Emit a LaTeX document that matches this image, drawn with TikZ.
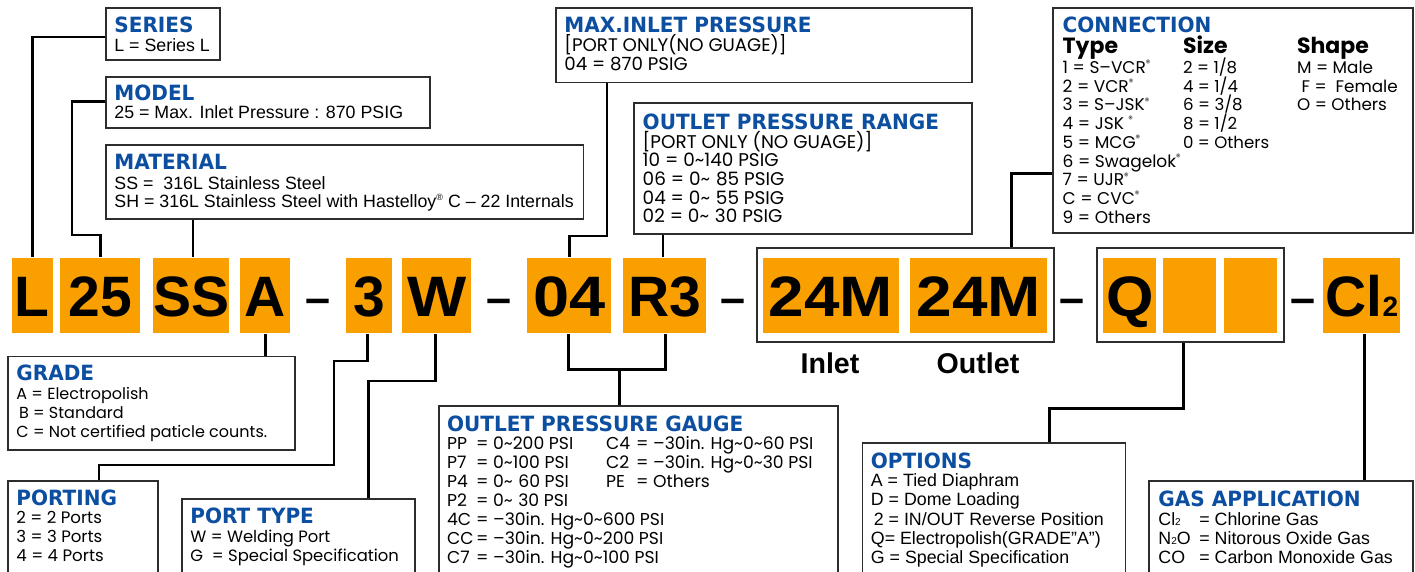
\documentclass[tikz,border=0pt]{standalone}
\usepackage{fontspec}
\setmainfont{Liberation Sans}
\newfontfamily\ttlfont{DejaVu Sans}[FakeStretch=0.955]
\newfontfamily\geofont{Poppins}
\definecolor{codeorange}{RGB}{249,160,0}
\definecolor{ttlblue}{RGB}{12,78,160}
\definecolor{boxgray}{RGB}{45,45,45}
\newcommand\tl{\textasciitilde}
\newcommand\reg{\raisebox{3.3pt}{\fontsize{4.5}{4.5}\selectfont ®}}
\newcommand\sm[1]{{\fontsize{5}{5}\selectfont #1}}
\newcommand\mlines[2]{\vtop{\baselineskip=#1\lineskiplimit=-100pt\lineskip=0pt\halign{##\hfil\cr#2\crcr}}}
\newcommand\wide[2]{\scalebox{#1}[1]{#2}}
\tikzset{
 infobox/.style={draw=boxgray, line width=0.9pt, fill=white, inner sep=0pt, anchor=north west},
 ttl/.style={anchor=base west, inner sep=0pt, text=ttlblue, font=\ttlfont\bfseries\fontsize{10.5}{12}\selectfont},
 cbody/.style={anchor=base west, inner sep=0pt, font=\fontsize{8.9}{10}\selectfont},
 gb/.style={anchor=base west, inner sep=0pt, font=\geofont\fontsize{#1}{10}\selectfont},
 ghead/.style={anchor=base west, inner sep=0pt, font=\geofont\bfseries\fontsize{11}{12}\selectfont},
 codebox/.style={fill=codeorange, inner sep=0pt, anchor=north west, minimum height=37.75pt,
   text height=20.5pt, text depth=0pt, font=\bfseries\fontsize{28.5}{30}\selectfont},
 grpbox/.style={draw=boxgray, line width=1pt, inner sep=0pt, anchor=north west},
 conn/.style={draw=black, line width=1.3pt},
 sepdash/.style={anchor=base, inner sep=0pt, font=\bfseries\fontsize{22.5}{24}\selectfont},
 io/.style={anchor=base, inner sep=0pt, font=\bfseries\fontsize{14.3}{16}\selectfont},
}
\begin{document}
\begin{tikzpicture}[x=0.5pt,y=-0.5pt]
\useasboundingbox (0,0) rectangle (1415,572);
\fill[white] (0,0) rectangle (1415,572);
\clip (0,0) rectangle (1415,572);

% ---- group frames
\node[grpbox, minimum width=148.45pt, minimum height=46.85pt] (inout) at (755.6,247.3) {};
\node[grpbox, minimum width=93.6pt, minimum height=46.85pt] (qgrp) at (1095.8,247.3) {};

% ---- code boxes
\node[codebox, minimum width=20.5pt]  (cL)  at (11.5,257.5) {L};
\node[codebox, minimum width=40pt]    (c25) at (60,257.5) {25};
\node[codebox, minimum width=37.8pt]  (cSS) at (153,257.5) {SS};
\node[codebox, minimum width=25pt]    (cA)  at (240,257.5) {A};
\node[codebox, minimum width=22.8pt]  (c3)  at (346,257.5) {3};
\node[codebox, minimum width=34.65pt] (cW)  at (401.7,257.5) {\wide{1.1}{W}};
\node[codebox, minimum width=41.8pt]  (c04) at (527,257.5) {\wide{1.14}{04}};
\node[codebox, minimum width=41.5pt]  (cR3) at (623,257.5) {R3};
\node[codebox, minimum width=67.95pt] (cIn) at (762.5,257.5) {\wide{1.12}{24M}};
\node[codebox, minimum width=68.3pt]  (cOut) at (910,257.5) {\wide{1.12}{24M}};
\node[codebox, minimum width=26.5pt]  (cQ)  at (1103,257.5) {\wide{1.07}{Q}};
\node[codebox, minimum width=26.35pt] (cB1) at (1163,257.5) {};
\node[codebox, minimum width=26.4pt]  (cB2) at (1224,257.5) {};
\node[codebox, minimum width=38.5pt]  (cCl) at (1323,257.5) {Cl{\fontsize{14}{14}\selectfont 2}};

% ---- dashes
\node[sepdash] (d1) at (317.8,313.2) {–};
\node[sepdash] (d2) at (499.3,313.2) {–};
\node[sepdash] (d3) at (733,313.2) {–};
\node[sepdash] (d4) at (1072.2,313.2) {–};
\node[sepdash] (d5) at (1303,313.2) {–};

\node[io] (inl) at (830,373.3) {Inlet};
\node[io] (outl) at (978,373.3) {Outlet};

% ---- SERIES
\node[infobox, minimum width=57pt, minimum height=26pt] (series) at (105,7) {};
\node[ttl] (seriesT) at (114,32.7) {SERIES};
\node[cbody] (seriesB) at (114,51.7) {L = Series L};

% ---- MODEL
\node[infobox, minimum width=162pt, minimum height=25.5pt] (model) at (105,76) {};
\node[ttl] (modelT) at (114,100.7) {MODEL};
\node[cbody] (modelB) at (114,119) {25 = Max. Inlet Pressure : 870 PSIG};

% ---- MATERIAL
\node[infobox, minimum width=238.75pt, minimum height=37pt] (material) at (105,144) {};
\node[ttl] (materialT) at (114,169.3) {MATERIAL};
\node[cbody] (materialB) at (114,189.3) {\mlines{9pt}{SS = \ 316L Stainless Steel\cr
SH = 316L Stainless Steel with Hastelloy\reg\ C – 22 Internals}};

% ---- MAX INLET
\node[infobox, minimum width=208pt, minimum height=37.2pt] (maxin) at (555,7.3) {};
\node[ttl] (maxinT) at (564,32.7) {MAX.INLET PRESSURE};
\node[gb=9.1] (maxinB) at (564,51.7) {\mlines{9.5pt}{[PORT ONLY(NO GUAGE)]\cr 04 = 870 PSIG}};

% ---- OUTLET PRESSURE RANGE
\node[infobox, minimum width=169pt, minimum height=65.5pt] (outrange) at (633,102) {};
\node[ttl] (outrangeT) at (642.3,129.3) {OUTLET PRESSURE RANGE};
\node[gb=9.2] (outrangeB) at (642.3,148.3) {\mlines{9.3pt}{[PORT ONLY (NO GUAGE)]\cr
10 = 0\tl140 PSIG\cr 06 = 0\tl\phantom{1}85 PSIG\cr 04 = 0\tl\phantom{1}55 PSIG\cr 02 = 0\tl\phantom{1}30 PSIG}};

% ---- CONNECTION
\node[infobox, minimum width=179.7pt, minimum height=112.5pt] (connection) at (1052.3,7.3) {};
\node[ttl] (connectionT) at (1062.3,32.3) {CONNECTION};
\node[ghead] (typeH) at (1062.3,54) {Type};
\node[ghead] (sizeH) at (1182.7,54) {Size};
\node[ghead] (shapeH) at (1296.7,54) {Shape};
\node[gb=8.5] (typeB) at (1062.3,73.3) {\mlines{9.375pt}{1 = S–VCR\reg\cr 2 = VCR\reg\cr 3 = S–JSK\reg\cr 4 = JSK \reg\cr
5 = MCG\reg\cr 6 = Swagelok\reg\cr 7 = UJR\reg\cr C = CVC\reg\cr 9 = Others}};
\node[gb=8.3] (sizeB) at (1182.7,73.3) {\mlines{9.375pt}{2 = 1/8\cr 4 = 1/4\cr 6 = 3/8\cr 8 = 1/2\cr 0 = Others}};
\node[gb=8.4] (shapeB) at (1296.7,73.3) {\mlines{9.375pt}{M = Male\cr \ F = \ Female\cr O = Others}};

% ---- GRADE
\node[infobox, minimum width=143.65pt, minimum height=46.65pt] (grade) at (7,355.7) {};
\node[ttl] (gradeT) at (16,380.5) {GRADE};
\node[gb=8] (gradeB) at (16,400) {\mlines{9.35pt}{A = Electropolish\cr \,B = Standard\cr C = Not certified paticle counts.}};

% ---- PORTING
\node[infobox, minimum width=75pt, minimum height=55pt] (porting) at (7.3,480) {};
\node[ttl] (portingT) at (16,505) {PORTING};
\node[gb=8.3] (portingB) at (16,523.3) {\mlines{9.6pt}{2 = 2 Ports\cr 3 = 3 Ports\cr 4 = 4 Ports}};

% ---- PORT TYPE
\node[infobox, minimum width=116.65pt, minimum height=45.85pt] (porttype) at (181,498.3) {};
\node[ttl] (porttypeT) at (190,523.3) {PORT TYPE};
\node[gb=8.2] (porttypeB) at (190,542.3) {\mlines{9.7pt}{W = Welding Port\cr G \ = Special Specification}};

% ---- OUTLET PRESSURE GAUGE
\node[infobox, minimum width=199.5pt, minimum height=92.5pt] (gauge) at (438.3,405) {};
\node[ttl] (gaugeT) at (446.7,431.7) {OUTLET PRESSURE GAUGE};
\node[gb=8.6] (gaugeB) at (446.7,450) {\mlines{9.45pt}{%
\makebox[14.5pt][l]{PP}= 0\tl200 PSI\cr
\makebox[14.5pt][l]{P7}= 0\tl100 PSI\cr
\makebox[14.5pt][l]{P4}= 0\tl\phantom{1}60 PSI\cr
\makebox[14.5pt][l]{P2}= 0\tl\phantom{1}30 PSI\cr
\makebox[14.5pt][l]{4C}= –30in. Hg\tl0\tl600 PSI\cr
\makebox[14.5pt][l]{CC}= –30in. Hg\tl0\tl200 PSI\cr
\makebox[14.5pt][l]{C7}= –30in. Hg\tl0\tl100 PSI}};
\node[gb=8.6] (gaugeC) at (605.7,450) {\mlines{9.45pt}{%
\makebox[15pt][l]{C4}= –30in. Hg\tl0\tl60 PSI\cr
\makebox[15pt][l]{C2}= –30in. Hg\tl0\tl30 PSI\cr
\makebox[15pt][l]{PE}= Others}};

% ---- OPTIONS
\node[infobox, minimum width=131.55pt, minimum height=73.85pt] (options) at (861.5,442.3) {};
\node[ttl] (optionsT) at (870.5,468.3) {OPTIONS};
\node[cbody] (optionsB) at (870.5,486.7) {\mlines{9.6pt}{A = Tied Diaphram\cr D = Dome Loading\cr
\,2 = IN/OUT Reverse Position\cr Q= Electropolish(GRADE"A")\cr G = Special Specification}};

% ---- GAS APPLICATION
\node[infobox, minimum width=131.8pt, minimum height=55pt] (gas) at (1148.4,480) {};
\node[ttl] (gasT) at (1158,506.7) {GAS APPLICATION};
\node[cbody] (gasB) at (1158,525) {\mlines{9.6pt}{%
\makebox[20.5pt][l]{Cl\sm{2}}= Chlorine Gas\cr
\makebox[20.5pt][l]{N\sm{2}O}= Nitorous Oxide Gas\cr
\makebox[20.5pt][l]{CO}= Carbon Monoxide Gas}};

% ---- connectors
\coordinate (gjoin) at (619.4,369.3);
\draw[conn] (series.west |- 0,37) -| (cL.north);
\draw[conn] (model.west |- 0,101.7) -| (72,235) -| (c25.north);
\draw[conn] (material.south -| 193,0) -- (cSS.north -| 193,0);
\draw[conn] (maxin.south -| 607,0) |- (c04.north |- 0,236) -- (c04.north);
\draw[conn] (outrange.south -| 663,0) -- (cR3.north -| 663,0);
\draw[conn] (connection.west |- 0,173.3) -| (inout.north -| 1011.7,0);
\draw[conn] (cA.south) -- (grade.north -| cA.south);
\draw[conn] (c3.south -| 367.3,0) |- (334,361) |- (99,465) -- (porting.north -| 99,0);
\draw[conn] (cW.south -| 435.5,0) |- (368.5,381) -- (porttype.north -| 368.5,0);
\draw[conn] (c04.south -| 568.4,0) |- (665.7,369.3) -- (cR3.south -| 665.7,0);
\draw[conn] (gauge.north -| gjoin) -- (gjoin);
\draw[conn] (qgrp.south -| 1183.3,0) |- (1049.3,408.3) -- (options.north -| 1049.3,0);
\draw[conn] (cCl.south -| 1364.6,0) -- (gas.north -| 1364.6,0);
\end{tikzpicture}
\end{document}
